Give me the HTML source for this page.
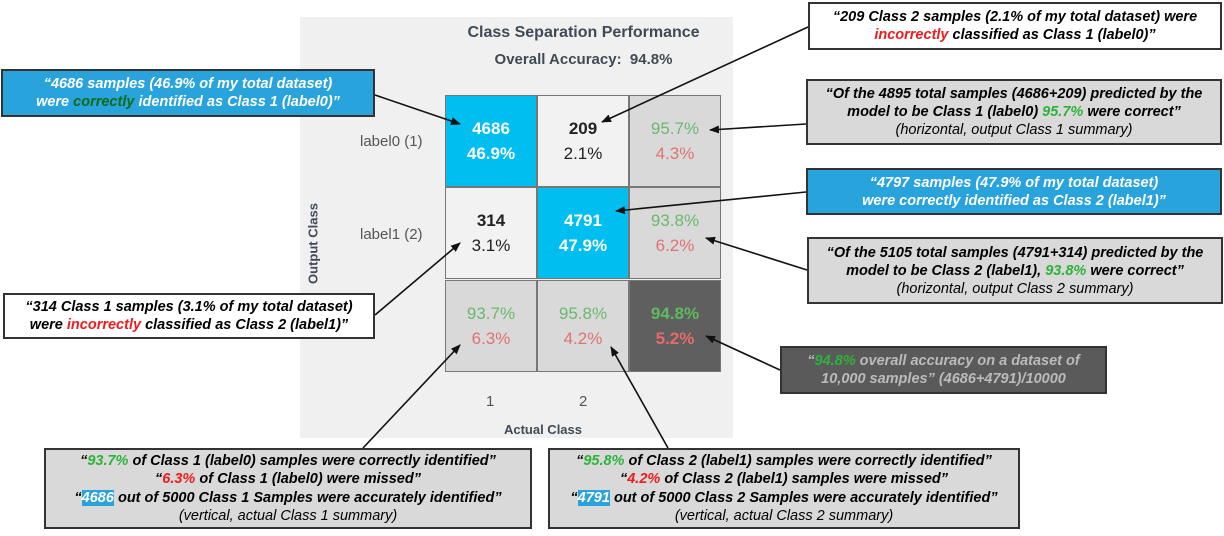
<!DOCTYPE html>
<html><head><meta charset="utf-8"><style>
body{margin:0;width:1224px;height:536px;background:#fff;position:relative;overflow:hidden;font-family:"Liberation Sans",sans-serif}
.a{position:absolute}
.bx{position:absolute;box-sizing:border-box;border:2px solid #333;text-align:center;font-weight:bold;font-style:italic;font-size:14.5px;line-height:18px;display:flex;flex-direction:column;justify-content:center}
.bx>div{white-space:nowrap}
.n{font-weight:normal}
.g{color:#2db33a}.r{color:#ee1c1c}
.cell{position:absolute;width:92px;height:92px;box-sizing:border-box;border:1px solid #777;text-align:center;font-size:17px;line-height:25px;padding-top:20px}
.cg{color:#6cb86c}.cr{color:#e07272}
</style></head><body>
<div class="a" style="left:300px;top:17px;width:433px;height:421px;background:#f0f0f0"></div>
<div class="a" style="left:445px;top:24px;width:277px;text-align:center;font-weight:bold;font-size:16px;color:#404a57">Class Separation Performance</div>
<div class="a" style="left:445px;top:51px;width:277px;text-align:center;font-weight:bold;font-size:15px;color:#404a57">Overall Accuracy:&nbsp; 94.8%</div>
<div class="cell" style="left:445px;top:95px;background:#00bff0;color:#fff;font-weight:bold">4686<br>46.9%</div>
<div class="cell" style="left:537px;top:95px;background:#f2f2f2;color:#222"><b>209</b><br>2.1%</div>
<div class="cell" style="left:629px;top:95px;background:#d9d9d9"><span class="cg">95.7%</span><br><span class="cr">4.3%</span></div>
<div class="cell" style="left:445px;top:187px;background:#f2f2f2;color:#222"><b>314</b><br>3.1%</div>
<div class="cell" style="left:537px;top:187px;background:#00bff0;color:#fff;font-weight:bold">4791<br>47.9%</div>
<div class="cell" style="left:629px;top:187px;background:#d9d9d9"><span class="cg">93.8%</span><br><span class="cr">6.2%</span></div>
<div class="cell" style="left:445px;top:280px;background:#d9d9d9"><span class="cg">93.7%</span><br><span class="cr">6.3%</span></div>
<div class="cell" style="left:537px;top:280px;background:#d9d9d9"><span class="cg">95.8%</span><br><span class="cr">4.2%</span></div>
<div class="cell" style="left:629px;top:280px;background:#5f5f5f;font-weight:bold"><span style="color:#5dbb5d">94.8%</span><br><span style="color:#e86a6a">5.2%</span></div>
<div class="a" style="left:360px;top:133px;font-size:15px;color:#555">label0 (1)</div>
<div class="a" style="left:360px;top:226px;font-size:15px;color:#555">label1 (2)</div>
<div class="a" style="left:263px;top:236px;width:100px;text-align:center;transform:rotate(-90deg);font-weight:bold;font-size:13px;color:#404a57">Output Class</div>
<div class="a" style="left:486px;top:393px;font-size:15px;color:#555">1</div>
<div class="a" style="left:579px;top:393px;font-size:15px;color:#555">2</div>
<div class="a" style="left:445px;top:422px;width:196px;text-align:center;font-weight:bold;font-size:13px;color:#404a57">Actual Class</div>

<div class="bx" style="left:1px;top:69px;width:374px;height:48px;background:#29a3dc;color:#fff"><div>“4686 samples (46.9% of my total dataset)</div><div>were <span style="color:#0d6b1a">correctly</span> identified as Class 1 (label0)”</div></div>
<div class="bx" style="left:3px;top:293px;width:372px;height:46px;background:#fff"><div>“314 Class 1 samples (3.1% of my total dataset)</div><div>were <span class="r">incorrectly</span> classified as Class 2 (label1)”</div></div>
<div class="bx" style="left:808px;top:2px;width:414px;height:48px;background:#fff"><div>“209 Class 2 samples (2.1% of my total dataset) were</div><div><span class="r">incorrectly</span> classified as Class 1 (label0)”</div></div>
<div class="bx" style="left:806px;top:79px;width:416px;height:66px;background:#d9d9d9"><div>“Of the 4895 total samples (4686+209) predicted by the</div><div>model to be Class 1 (label0) <span class="g">95.7%</span> were correct”</div><div class="n">(horizontal, output Class 1 summary)</div></div>
<div class="bx" style="left:806px;top:168px;width:416px;height:47px;background:#29a3dc;color:#fff"><div>“4797 samples (47.9% of my total dataset)</div><div>were correctly identified as Class 2 (label1)”</div></div>
<div class="bx" style="left:807px;top:237px;width:416px;height:67px;background:#d9d9d9"><div>“Of the 5105 total samples (4791+314) predicted by the</div><div>model to be Class 2 (label1), <span class="g">93.8%</span> were correct”</div><div class="n">(horizontal, output Class 2 summary)</div></div>
<div class="bx" style="left:780px;top:346px;width:327px;height:48px;background:#5a5a5a;color:#bbb"><div>“<span class="g">94.8%</span> overall accuracy on a dataset of</div><div>10,000 samples” (4686+4791)/10000</div></div>
<div class="bx" style="left:44px;top:448px;width:488px;height:81px;background:#d9d9d9;font-size:14.5px;line-height:18.5px"><div>“<span class="g">93.7%</span> of Class 1 (label0) samples were correctly identified”</div><div>“<span class="r">6.3%</span> of Class 1 (label0) were missed”</div><div>“<span style="background:#29a3dc;color:#fff">4686</span> out of 5000 Class 1 Samples were accurately identified”</div><div class="n">(vertical, actual Class 1 summary)</div></div>
<div class="bx" style="left:548px;top:448px;width:472px;height:81px;background:#d9d9d9;font-size:14.5px;line-height:18.5px"><div>“<span class="g">95.8%</span> of Class 2 (label1) samples were correctly identified”</div><div>“<span class="r">4.2%</span> of Class 2 (label1) samples were missed”</div><div>“<span style="background:#29a3dc;color:#fff">4791</span> out of 5000 Class 2 Samples were accurately identified”</div><div class="n">(vertical, actual Class 2 summary)</div></div>

<svg class="a" style="left:0;top:0" width="1224" height="536">
<defs><marker id="m" markerWidth="10" markerHeight="8" refX="9" refY="4" orient="auto" markerUnits="userSpaceOnUse"><path d="M0,0L10,4L0,8z" fill="#111"/></marker></defs>
<g stroke="#111" stroke-width="1.6" fill="none" marker-end="url(#m)">
<line x1="375" y1="95" x2="460" y2="124"/>
<line x1="808" y1="27" x2="602" y2="122"/>
<line x1="806" y1="124" x2="710" y2="130"/>
<line x1="806" y1="192" x2="616" y2="211"/>
<line x1="807" y1="270" x2="706" y2="238"/>
<line x1="780" y1="370" x2="706" y2="336"/>
<line x1="375" y1="315" x2="460" y2="243"/>
<line x1="363" y1="448" x2="460" y2="345"/>
<line x1="668" y1="448" x2="611" y2="347"/>
</g></svg>
</body></html>
